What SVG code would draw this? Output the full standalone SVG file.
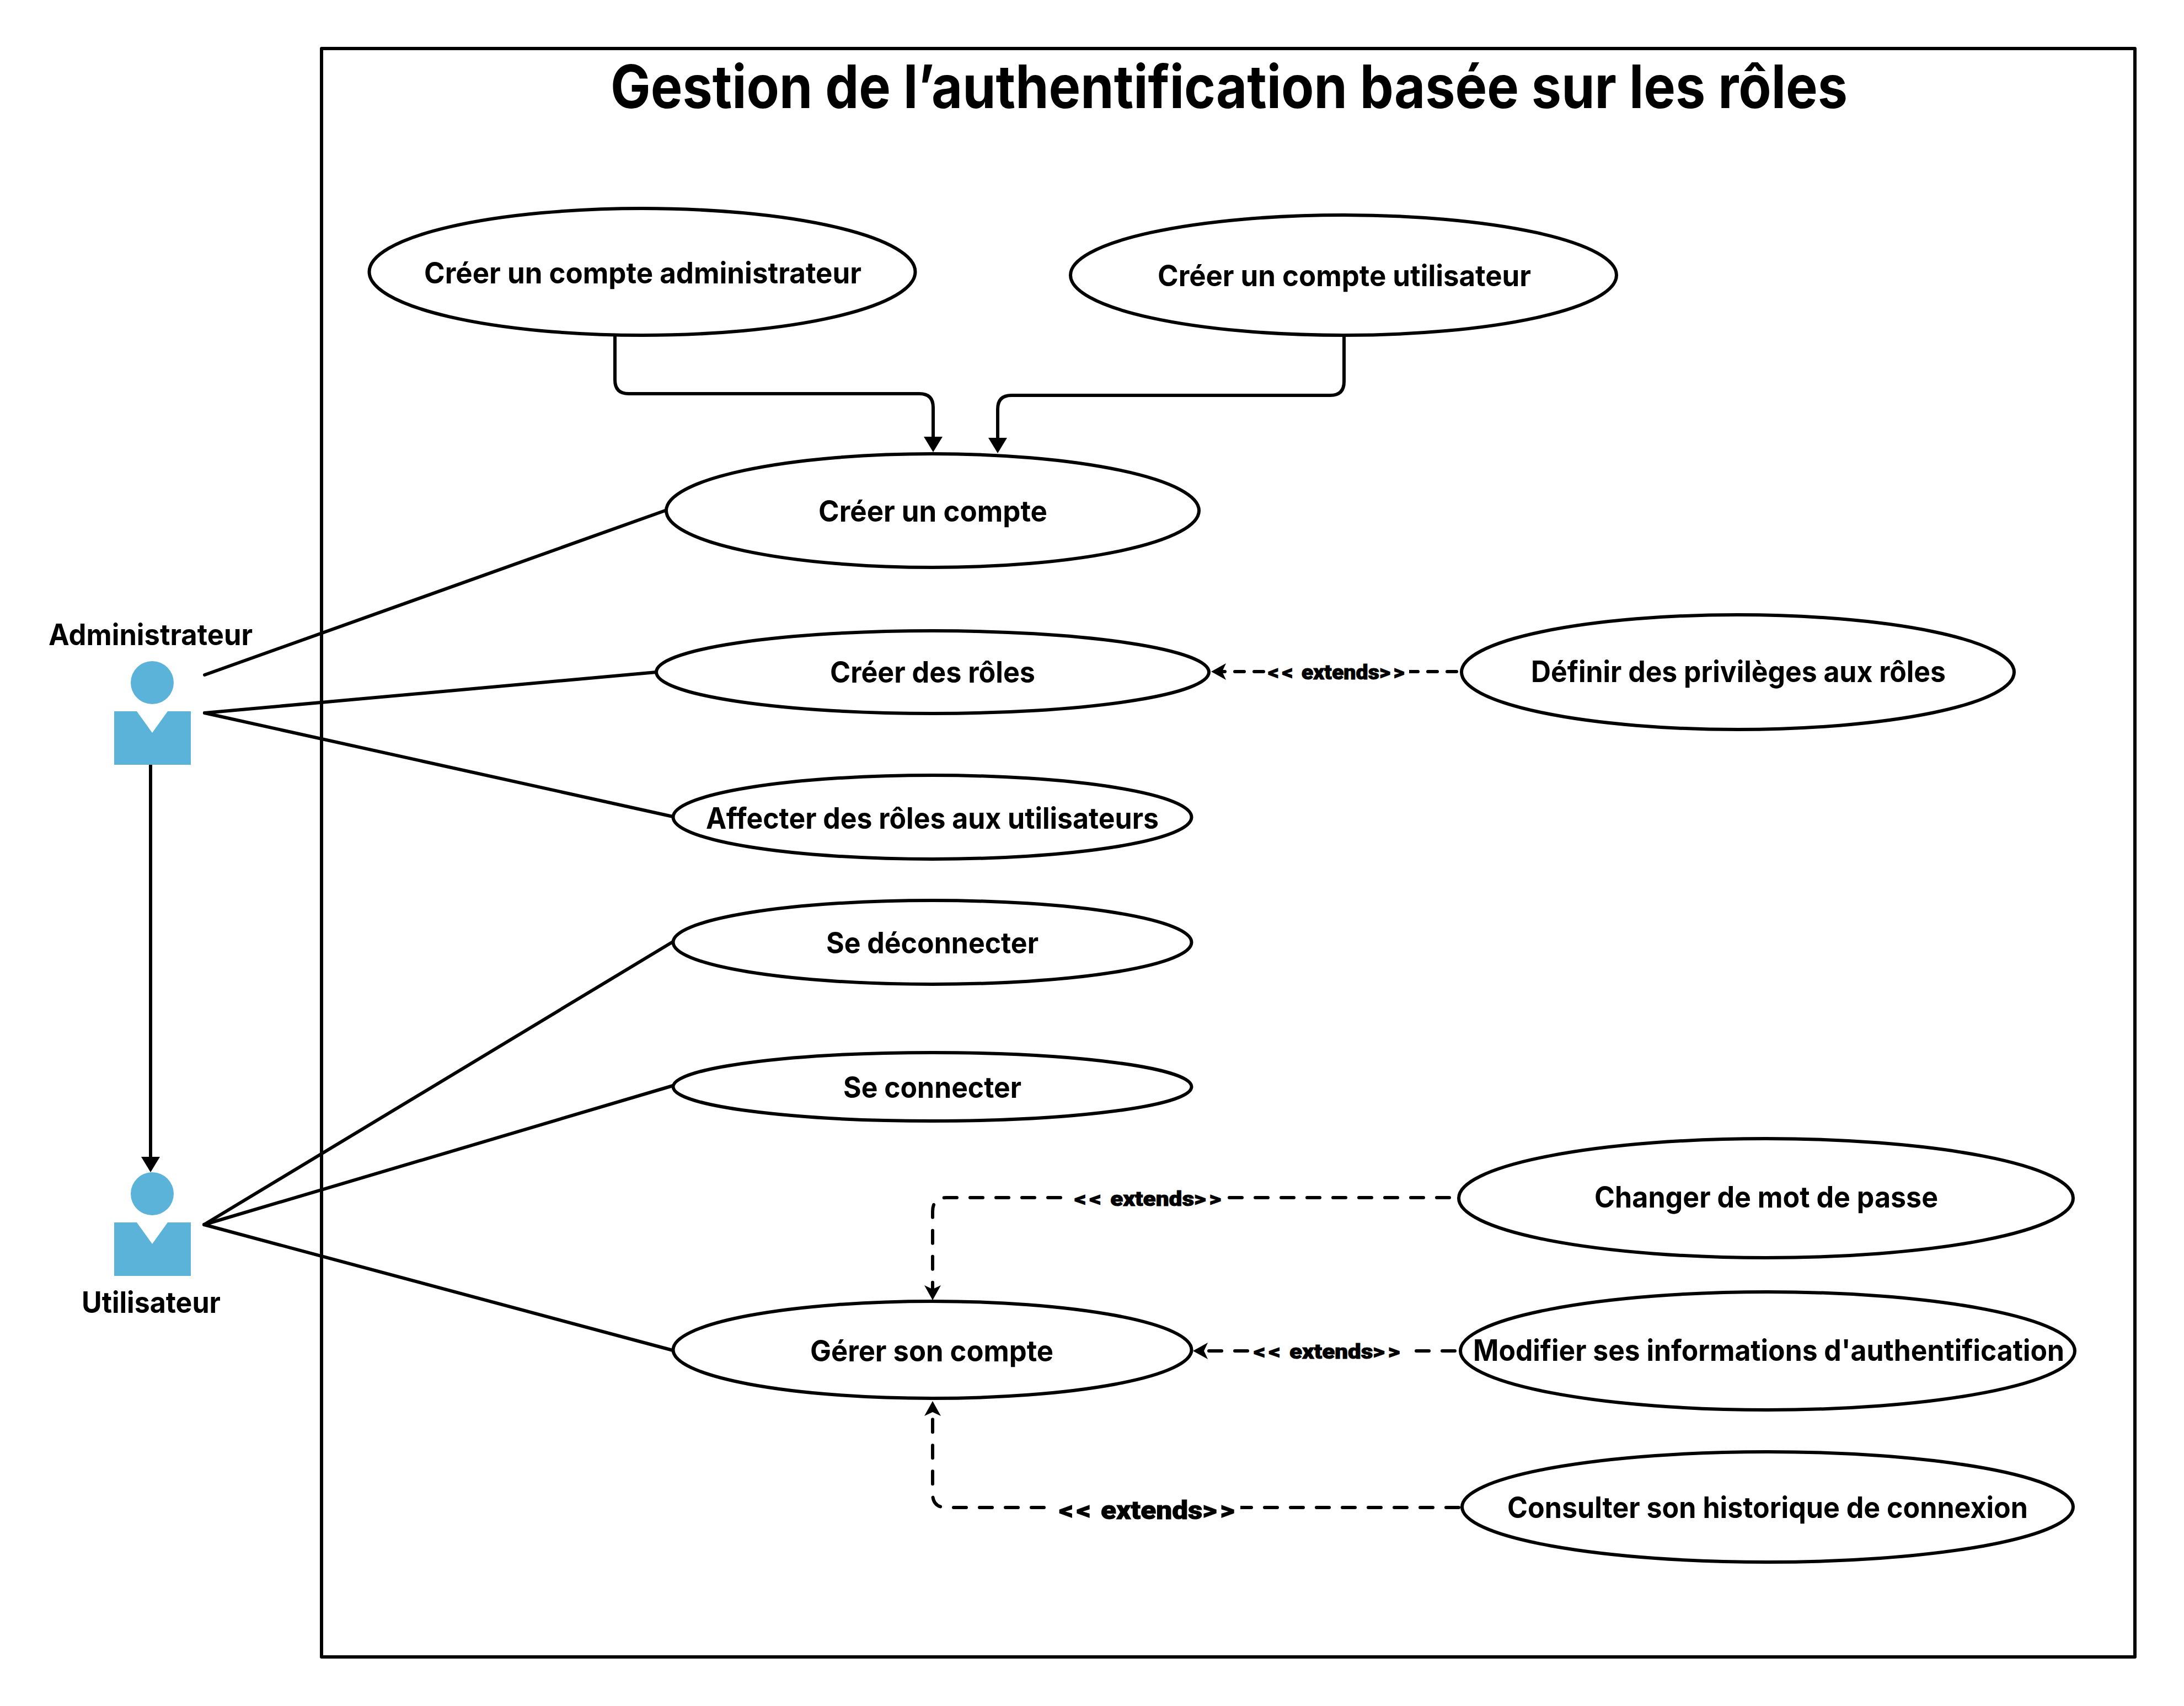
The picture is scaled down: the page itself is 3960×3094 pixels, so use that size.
<svg xmlns="http://www.w3.org/2000/svg" width="3960" height="3094" viewBox="0 0 3960 3094">
<style>
.n{fill:#fff;stroke:#000;stroke-width:6}
.t{font-family:Inter,"Liberation Sans",sans-serif;font-weight:700;font-size:53px;fill:#000}
.e{font-family:Roboto,"Liberation Sans",sans-serif;font-weight:900;font-size:37px;fill:#000;stroke:#000;stroke-width:1}
.b{letter-spacing:5px}
.c{fill:none;stroke:#000;stroke-width:6;stroke-linecap:round}
.d{stroke-dasharray:23 24}
.a{fill:#5bb3da}
.w{fill:#fff}
</style>
<defs>
<marker id="ar" markerUnits="userSpaceOnUse" markerWidth="30" markerHeight="36" refX="20" refY="17" orient="auto"><path d="M0 0L28 17L0 34Z" fill="#000"/></marker>
<marker id="ad" markerUnits="userSpaceOnUse" markerWidth="30" markerHeight="32" refX="19" refY="15" orient="auto"><path d="M0 0L27 15L0 30L7 15Z" fill="#000"/></marker>
</defs>
<rect width="3960" height="3094" fill="#fff"/>
<rect id="frame" x="583" y="88" width="3288" height="2917" fill="none" stroke="#000" stroke-width="6" stroke-linejoin="round"/>
<text x="1107" y="196" font-family="Inter,Liberation Sans,sans-serif" font-weight="700" font-size="108" textLength="2243" lengthAdjust="spacingAndGlyphs">Gestion de l’authentification basée sur les rôles</text>
<g id="connectors">
<path class="c" d="M371 1224L1206 926"/>
<path class="c" d="M371 1293L1190 1219"/>
<path class="c" d="M371 1293L1220 1481"/>
<path class="c" marker-end="url(#ar)" d="M273 1387V2118"/>
<path class="c" d="M370 2221L1220 1708"/>
<path class="c" d="M370 2221L1220 1969"/>
<path class="c" d="M370 2221L1220 2449"/>
<path class="c" marker-end="url(#ar)" d="M1115 610V689Q1115 714 1140 714H1667Q1692 714 1692 739V812"/>
<path class="c" marker-end="url(#ar)" d="M2437 610V692Q2437 717 2412 717H1834Q1809 717 1809 742V814"/>
<path class="c" marker-end="url(#ad)" stroke-dasharray="17 18" d="M2641 1218H2204"/>
<path class="c d" marker-end="url(#ad)" d="M2628 2172H1716Q1691 2172 1691 2197V2350"/>
<path class="c d" marker-end="url(#ad)" d="M2638 2450H2171"/>
<path class="c d" marker-end="url(#ad)" d="M2645 2734H1716Q1691 2734 1691 2709V2549"/>
</g>
<g id="label1"><rect class="w" x="2295" y="1198" width="260" height="40"/><text class="e" x="2299" y="1232" textLength="253" lengthAdjust="spacingAndGlyphs"><tspan class="b">&lt;&lt;</tspan> extends<tspan class="b">&gt;&gt;</tspan></text></g>
<g id="label2"><rect class="w" x="1944" y="2152" width="280" height="40"/><text class="e" x="1948" y="2187" textLength="272" lengthAdjust="spacingAndGlyphs"><tspan class="b">&lt;&lt;</tspan> extends<tspan class="b">&gt;&gt;</tspan></text></g>
<g id="label3"><rect class="w" x="2270" y="2430" width="278" height="40"/><text class="e" x="2273" y="2464" textLength="271" lengthAdjust="spacingAndGlyphs"><tspan class="b">&lt;&lt;</tspan> extends<tspan class="b">&gt;&gt;</tspan></text></g>
<g id="label4"><rect class="w" x="1912" y="2712" width="337" height="48"/><text class="e" style="font-size:47px" x="1920" y="2755" textLength="324" lengthAdjust="spacingAndGlyphs"><tspan class="b">&lt;&lt;</tspan> extends<tspan class="b">&gt;&gt;</tspan></text></g>
<g id="admin"><circle class="a" cx="276" cy="1238" r="39"/><path class="a" d="M207 1290H248L276 1329L304 1290H346V1387H207Z"/><text class="t" x="88" y="1170" textLength="370" lengthAdjust="spacingAndGlyphs">Administrateur</text></g>
<g id="user"><circle class="a" cx="276" cy="2165" r="39"/><path class="a" d="M207 2217H248L276 2256L304 2217H346V2314H207Z"/><text class="t" x="148" y="2381" textLength="252" lengthAdjust="spacingAndGlyphs">Utilisateur</text></g>
<g id="u1"><ellipse class="n" cx="1164.5" cy="493" rx="495" ry="115"/><text class="t" x="769" y="514" textLength="793" lengthAdjust="spacingAndGlyphs">Créer un compte administrateur</text></g>
<g id="u2"><ellipse class="n" cx="2436" cy="499" rx="495" ry="109"/><text class="t" x="2099" y="519" textLength="677" lengthAdjust="spacingAndGlyphs">Créer un compte utilisateur</text></g>
<g id="u3"><ellipse class="n" cx="1691" cy="926" rx="483" ry="103"/><text class="t" x="1484" y="946" textLength="415" lengthAdjust="spacingAndGlyphs">Créer un compte</text></g>
<g id="u4"><ellipse class="n" cx="1691" cy="1219" rx="501" ry="75"/><text class="t" x="1505" y="1238" textLength="372" lengthAdjust="spacingAndGlyphs">Créer des rôles</text></g>
<g id="u5"><ellipse class="n" cx="1690.5" cy="1482" rx="470" ry="76"/><text class="t" x="1280" y="1503" textLength="821" lengthAdjust="spacingAndGlyphs">Affecter des rôles aux utilisateurs</text></g>
<g id="u6"><ellipse class="n" cx="1690.5" cy="1709" rx="470" ry="76"/><text class="t" x="1498" y="1729" textLength="385" lengthAdjust="spacingAndGlyphs">Se déconnecter</text></g>
<g id="u7"><ellipse class="n" cx="1690.5" cy="1971" rx="470" ry="62"/><text class="t" x="1529" y="1991" textLength="323" lengthAdjust="spacingAndGlyphs">Se connecter</text></g>
<g id="u8"><ellipse class="n" cx="3151" cy="1219" rx="501" ry="104"/><text class="t" x="2776" y="1237" textLength="752" lengthAdjust="spacingAndGlyphs">Définir des privilèges aux rôles</text></g>
<g id="u9"><ellipse class="n" cx="3202" cy="2173" rx="557" ry="108"/><text class="t" x="2891" y="2190" textLength="623" lengthAdjust="spacingAndGlyphs">Changer de mot de passe</text></g>
<g id="u10"><ellipse class="n" cx="3205" cy="2450" rx="557" ry="107"/><text class="t" x="2671" y="2468" textLength="1072" lengthAdjust="spacingAndGlyphs">Modifier ses informations d'authentification</text></g>
<g id="u11"><ellipse class="n" cx="3205" cy="2733" rx="554" ry="100"/><text class="t" x="2733" y="2753" textLength="944" lengthAdjust="spacingAndGlyphs">Consulter son historique de connexion</text></g>
<g id="u12"><ellipse class="n" cx="1690.5" cy="2448" rx="470" ry="88"/><text class="t" x="1469" y="2469" textLength="441" lengthAdjust="spacingAndGlyphs">Gérer son compte</text></g>
</svg>
